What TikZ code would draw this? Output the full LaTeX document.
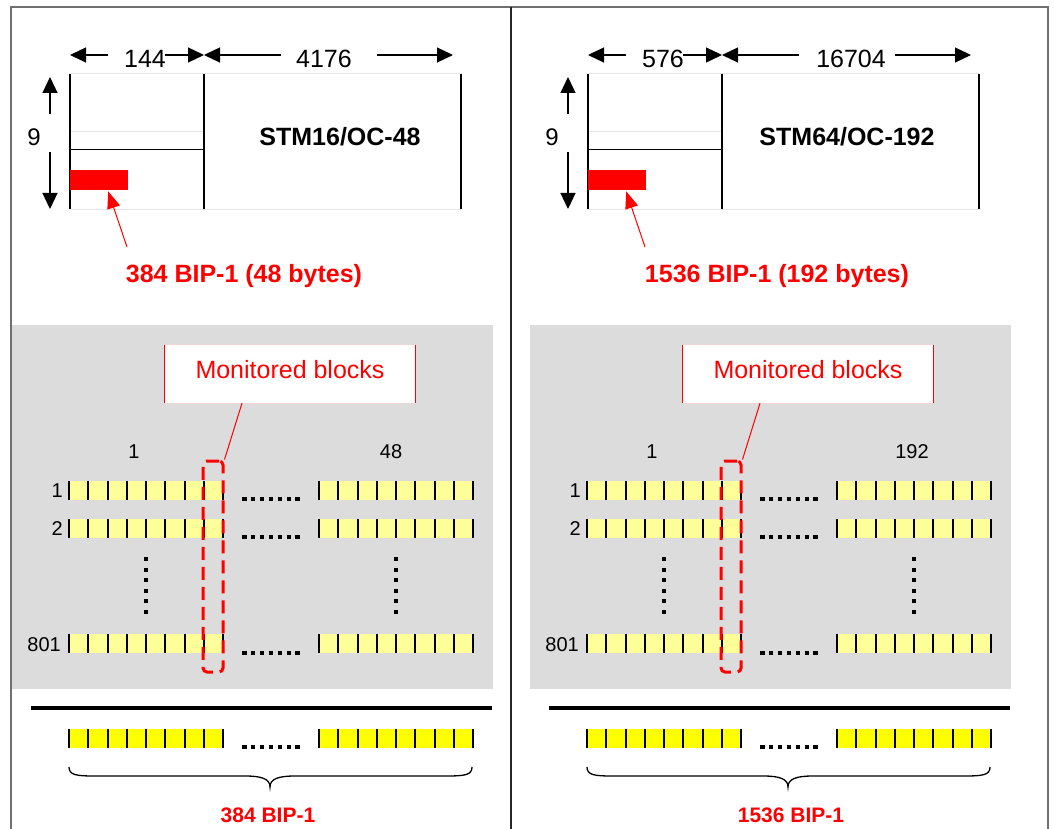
\documentclass[tikz,border=0pt]{standalone}
\usepackage{fontspec}
\setmainfont{Liberation Sans}
\usetikzlibrary{arrows.meta}
\definecolor{panelgray}{HTML}{DCDCDC}
\definecolor{paleyel}{HTML}{FFFF99}
\definecolor{brightyel}{HTML}{FFFF00}
\definecolor{lightline}{HTML}{E4E4E4}
\definecolor{pinkline}{HTML}{F2D6D6}
\definecolor{framegray}{HTML}{707070}
\newcommand\myfs[1]{\fontsize{#1}{#1}\selectfont}
\tikzset{
  dimarrow/.style={line width=1.2pt, -{Triangle[length=16pt,width=15pt]}},
  redarrow/.style={red, line width=1pt, -{Triangle[length=17pt,width=13pt]}},
  hdots/.style={line width=4.5pt, dash pattern=on 4.5pt off 4.4pt},
  vdots/.style={line width=4.5pt, dash pattern=on 4pt off 6.6pt},
  cellsep/.style={line width=2pt},
  rowbox/.style={anchor=north west, minimum width=154pt, minimum height=18.5pt, inner sep=0pt, draw=none},
  dashbox/.style={draw=red, line width=3pt, dash pattern=on 13pt off 7pt, rounded corners=4pt, inner sep=0pt},
  txt/.style={anchor=base, inner sep=0pt, font=\myfs{25}},
  btxt/.style={anchor=base, inner sep=0pt, font=\bfseries\myfs{25}},
  lbl/.style={anchor=base, inner sep=0pt, font=\myfs{20}},
  rowlbl/.style={anchor=base east, inner sep=0pt, font=\myfs{20}},
}
\newcommand\cellrow[4]{%
  \node[rowbox, fill=#4] (#1) at (#2,#3) {};
  \foreach \k in {0,...,8}
    \draw[cellsep] ([xshift=\k*19.25pt]#1.north west) -- ([xshift=\k*19.25pt]#1.south west);
}
\newcommand\panelbase[1]{%
  % frame diagram
  \draw[lightline, line width=1pt] (70,74) -- (461,74) (70,209) -- (461,209) (70,132) -- (204,132);
  \draw[line width=1.5pt] (70,74) -- (70,209) (204,74) -- (204,209) (461,74) -- (461,209);
  \draw[line width=1pt] (70,150) -- (204,150);
  \node[fill=red, inner sep=0pt, minimum width=58pt, minimum height=20pt, anchor=north west] (#1bip) at (70,170) {};
  % dimension arrows
  \coordinate (#1h0) at (70,55);  \coordinate (#1h1) at (108,55);
  \coordinate (#1h2) at (165,55); \coordinate (#1h3) at (204,55);
  \coordinate (#1h4) at (281,55); \coordinate (#1h5) at (377,55);
  \coordinate (#1h6) at (453,55);
  \draw[dimarrow] (#1h1) -- (#1h0);
  \draw[dimarrow] (#1h2) -- (#1h3);
  \draw[dimarrow] (#1h4) -- (#1h3);
  \draw[dimarrow] (#1h5) -- (#1h6);
  \coordinate (#1v0) at (50,77);  \coordinate (#1v1) at (50,114);
  \coordinate (#1v2) at (50,152); \coordinate (#1v3) at (50,209);
  \draw[dimarrow] (#1v1) -- (#1v0);
  \draw[dimarrow] (#1v2) -- (#1v3);
  \node[anchor=base, inner sep=0pt, font=\myfs{24}] (#1nine) at (34,146) {9};
  % gray panel
  \fill[panelgray] (12,325) rectangle (493,689);
  \node[fill=white, minimum width=250pt, minimum height=58pt, inner sep=0pt] (#1mon) at (290,374) {};
  \draw[pinkline, line width=1pt] (#1mon.north west) -- (#1mon.north east) (#1mon.south west) -- (#1mon.south east);
  \draw[red, line width=1.2pt] (#1mon.north west) -- (#1mon.south west) (#1mon.north east) -- (#1mon.south east);
  \node[txt, red] (#1montxt) at (290,378) {Monitored blocks};
  \node[lbl] (#1col1) at (134,458) {1};
  % rows
  \cellrow{#1ra}{69}{481}{paleyel}
  \cellrow{#1rb}{319}{481}{paleyel}
  \cellrow{#1sa}{69}{519}{paleyel}
  \cellrow{#1sb}{319}{519}{paleyel}
  \cellrow{#1ta}{69}{634}{paleyel}
  \cellrow{#1tb}{319}{634}{paleyel}
  \node[rowlbl] (#1rl1) at (63,497) {1};
  \node[rowlbl] (#1rl2) at (63,535) {2};
  \node[rowlbl] (#1rl3) at (61,651) {801};
  \draw[hdots] (242,499) -- (300,499);
  \draw[hdots] (242,537) -- (300,537);
  \draw[hdots] (242,653) -- (300,653);
  \draw[vdots] (146,557) -- (146,614);
  \draw[vdots] (396,557) -- (396,614);
  \node[dashbox, minimum width=20pt, minimum height=211pt] (#1dash) at (213,566.5) {};
  \draw[red, line width=1pt] ([xshift=-48pt]#1mon.south) -- (#1dash.north east);
  % bottom
  \draw[line width=3.5pt] (31,708) -- (492,708);
  \cellrow{#1ya}{69}{729}{brightyel}
  \cellrow{#1yb}{319}{729}{brightyel}
  \draw[hdots] (242,747) -- (300,747);
  \draw[line width=1.3pt] (69,767) .. controls (69,775) and (76,776) .. (95,776) -- (245,776)
     .. controls (262,776) and (270,779) .. (270,787)
     .. controls (270,779) and (278,776) .. (295,776) -- (446,776)
     .. controls (465,776) and (472,775) .. (472,767);
  % red pointer
  \coordinate (#1tail) at (127,247);
  \draw[redarrow] (#1tail) -- ([xshift=9pt,yshift=-1pt]#1bip.south);
}
\begin{document}
\begin{tikzpicture}[x=1pt,y=-1pt]
\useasboundingbox (0,0) rectangle (1054,829);
\fill[white] (0,0) rectangle (1054,829);
\begin{scope}
  \panelbase{L}
  \node[txt] (Lw1) at (145,68) {144};
  \node[txt] (Lw2) at (324,68) {4176};
  \node[btxt] (Ltitle) at (340,146) {STM16/OC-48};
  \node[btxt, red] (Lbipl) at (244,282) {384 BIP-1 (48 bytes)};
  \node[lbl] (Lcol2) at (391,458) {48};
  \node[anchor=base, inner sep=0pt, red, font=\bfseries\myfs{21}] (Ltot) at (268,822) {384 BIP-1};
\end{scope}
\begin{scope}[xshift=518pt]
  \panelbase{R}
  \node[txt] (Rw1) at (145,68) {576};
  \node[txt] (Rw2) at (333,68) {16704};
  \node[btxt] (Rtitle) at (329,146) {STM64/OC-192};
  \node[btxt, red] (Rbipl) at (259,282) {1536 BIP-1 (192 bytes)};
  \node[lbl] (Rcol2) at (394,458) {192};
  \node[anchor=base, inner sep=0pt, red, font=\bfseries\myfs{21}] (Rtot) at (273,822) {1536 BIP-1};
\end{scope}
\draw[framegray, line width=1.5pt] (11,829) -- (11,7) -- (1048,7) -- (1048,829);
\draw[black!85, line width=1.5pt] (511,7) -- (511,829);
\end{tikzpicture}
\end{document}
